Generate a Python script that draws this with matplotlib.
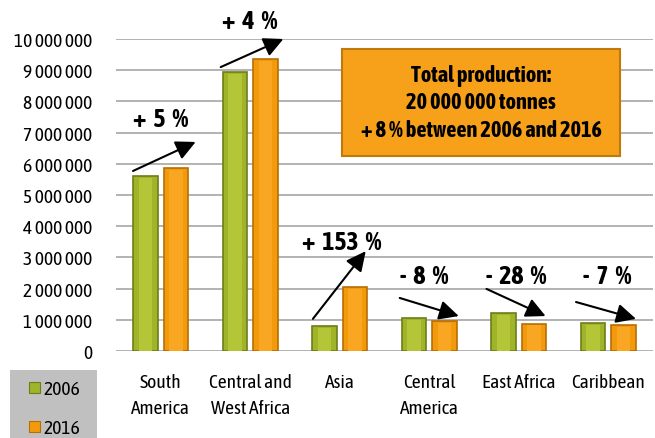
import matplotlib
matplotlib.use("Agg")
import matplotlib.pyplot as plt
from matplotlib.patches import Rectangle
import numpy as np

plt.rcParams['font.family'] = ['Asap Condensed', 'DejaVu Sans']

# Production in tonnes by region
regions = ["South\nAmerica", "Central and\nWest Africa", "Asia",
           "Central\nAmerica", "East Africa", "Caribbean"]
prod_2006 = [5600000, 8950000, 800000, 1060000, 1220000, 900000]
prod_2016 = [5850000, 9350000, 2050000, 960000, 880000, 840000]
changes = ["+ 5 %", "+ 4 %", "+ 153 %", "- 8 %", "- 28 %", "- 7 %"]
years = ["2006", "2016"]
y_ticks = list(range(0, 10000001, 1000000))

green, green_edge, green_hl = "#a0b42a", "#6f7d18", "#b4c638"
orange, orange_edge, orange_hl = "#f39a0c", "#b86d05", "#f9a622"

fig = plt.figure(figsize=(6.55, 4.39), dpi=100)
ax = fig.add_axes([116 / 655, 1 - 352 / 439, 537 / 655, 312 / 439])

x = np.arange(len(regions))
w = 0.27
off = 0.17
b1 = ax.bar(x - off, prod_2006, w, color=green, edgecolor=green_edge,
            linewidth=1.2, zorder=3, label=years[0])
b2 = ax.bar(x + off, prod_2016, w, color=orange, edgecolor=orange_edge,
            linewidth=1.2, zorder=3, label=years[1])

# lighter inner strip for a bevelled look
for bars, hl in ((b1, green_hl), (b2, orange_hl)):
    for r in bars:
        ax.bar(r.get_x() + r.get_width() / 2, r.get_height() - 60000,
               r.get_width() * 0.55, color=hl, linewidth=0, zorder=3.5)

ax.set_xlim(-0.5, len(regions) - 0.5)
ax.set_ylim(0, 10000000)
ax.set_yticks(y_ticks)
ax.set_yticklabels([f"{v:,.0f}".replace(",", " ") for v in y_ticks])
ax.set_xticks(x)
ax.set_xticklabels(regions, linespacing=1.55)
ax.tick_params(axis='y', length=0, pad=17, labelsize=14)
ax.tick_params(axis='x', length=0, pad=16, labelsize=14)
ax.grid(axis='y', color="#a6a6a6", linewidth=1.2, zorder=0)
for s in ax.spines.values():
    s.set_visible(False)

# change arrows (start, end in category / tonnes) and labels
arrows = [
    ((-0.31, 5770000), (0.39, 6700000), (0.0, 7450000)),
    ((0.67, 9100000), (1.37, 10000000), (1.0, 10600000)),
    ((1.70, 1030000), (2.29, 3200000), (2.02, 3500000)),
    ((2.67, 1700000), (3.33, 1120000), (2.94, 2420000)),
    ((3.64, 1990000), (4.30, 1120000), (3.97, 2420000)),
    ((4.64, 1570000), (5.31, 1030000), (4.99, 2420000)),
]
for (s, e, t), lab in zip(arrows, changes):
    ax.annotate("", xy=e, xytext=s, annotation_clip=False,
                arrowprops=dict(arrowstyle="-|>,head_length=0.85,head_width=0.42",
                                mutation_scale=14, color="black", lw=1.5,
                                shrinkA=0, shrinkB=0), zorder=5)
    ax.text(t[0], t[1], lab.replace(" ", "  "), ha="center", va="center",
            fontsize=18.5, fontweight="bold", clip_on=False, zorder=5)

# summary box
box = Rectangle((0.421, 0.625), 0.518, 0.343, transform=ax.transAxes,
                facecolor="#f7a11a", edgecolor="#c07a0c", linewidth=1.5,
                zorder=4)
ax.add_patch(box)
ax.text(0.421 + 0.259, 0.625 + 0.1715,
        "Total production:\n20 000 000 tonnes\n+ 8 % between 2006 and 2016",
        transform=ax.transAxes, ha="center", va="center", fontsize=16,
        fontweight="bold", linespacing=1.35, zorder=5)

# legend panel
fig.patches.append(Rectangle((10 / 655, 0), 87 / 655, 68 / 439,
                             transform=fig.transFigure, facecolor="#c0c0c0",
                             edgecolor="none", zorder=0))
for yr, fc, ec, yc in ((years[0], green, green_edge, 388),
                       (years[1], orange, orange_edge, 427)):
    fig.patches.append(Rectangle((29 / 655, 1 - (yc + 5.5) / 439), 11 / 655,
                                 11 / 439, transform=fig.transFigure,
                                 facecolor=fc, edgecolor=ec, linewidth=0.8,
                                 zorder=1))
    fig.text(43 / 655, 1 - yc / 439, yr, ha="left", va="center_baseline",
             fontsize=14)

fig.savefig("out.png", dpi=100)
